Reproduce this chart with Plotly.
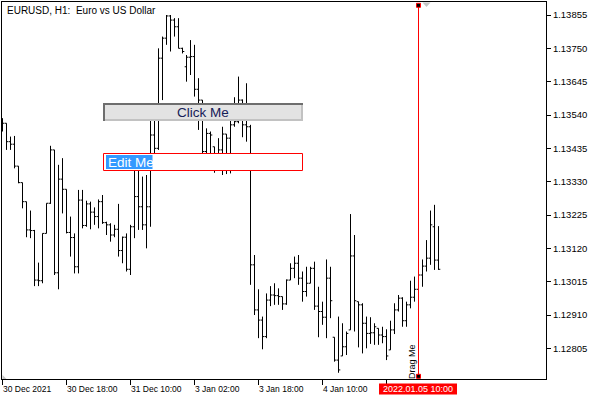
import plotly.graph_objects as go

# ---------------- data ----------------
bar_index = list(range(110))

open_ = [
    1.13498, 1.13514, 1.13456, 1.13448, 1.13379, 1.13327, 1.13267, 1.13178, 1.13176, 1.13020,
    1.13018, 1.13167, 1.13262, 1.13430, 1.13043, 1.13338, 1.13306, 1.13170, 1.13154, 1.13062,
    1.13272, 1.13192, 1.13260, 1.13234, 1.13220, 1.13267, 1.13201, 1.13194, 1.13162, 1.13180,
    1.13113, 1.13155, 1.13054, 1.13188, 1.13283, 1.13251, 1.13194, 1.13251, 1.13477, 1.13435,
    1.13719, 1.13782, 1.13852, 1.13839, 1.13818, 1.13750, 1.13692, 1.13722, 1.13724, 1.13621,
    1.13587, 1.13425, 1.13482, 1.13440, 1.13377, 1.13430, 1.13480, 1.13467, 1.13509, 1.13519,
    1.13587, 1.13509, 1.13503, 1.13068, 1.12926, 1.12894, 1.12842, 1.12957, 1.12973, 1.12971,
    1.12968, 1.12945, 1.13020, 1.13057, 1.13073, 1.13026, 1.12984, 1.13010, 1.13057, 1.12938,
    1.12921, 1.12903, 1.13026, 1.12840, 1.12768, 1.12781, 1.12810, 1.12863, 1.13096, 1.12952,
    1.12942, 1.12884, 1.12852, 1.12854, 1.12868, 1.12847, 1.12842, 1.12800, 1.12863, 1.12926,
    1.12963, 1.12892, 1.12942, 1.12966, 1.12991, 1.13036, 1.13064, 1.13089, 1.13188, 1.13083,
]
high = [
    1.13530, 1.13514, 1.13472, 1.13474, 1.13379, 1.13327, 1.13267, 1.13239, 1.13178, 1.13075,
    1.13167, 1.13262, 1.13443, 1.13430, 1.13383, 1.13404, 1.13306, 1.13220, 1.13167, 1.13304,
    1.13304, 1.13270, 1.13267, 1.13249, 1.13274, 1.13288, 1.13204, 1.13199, 1.13194, 1.13260,
    1.13157, 1.13167, 1.13194, 1.13367, 1.13414, 1.13346, 1.13351, 1.13535, 1.13556, 1.13750,
    1.13787, 1.13855, 1.13855, 1.13845, 1.13845, 1.13752, 1.13729, 1.13776, 1.13761, 1.13656,
    1.13587, 1.13498, 1.13488, 1.13440, 1.13467, 1.13503, 1.13480, 1.13524, 1.13596, 1.13661,
    1.13589, 1.13640, 1.13509, 1.13099, 1.12991, 1.12905, 1.12978, 1.13001, 1.13010, 1.12994,
    1.12968, 1.13022, 1.13073, 1.13094, 1.13099, 1.13047, 1.13062, 1.13062, 1.13078, 1.12999,
    1.12952, 1.13085, 1.13062, 1.12840, 1.12905, 1.12884, 1.12858, 1.13228, 1.13162, 1.12952,
    1.12947, 1.12905, 1.12903, 1.12884, 1.12868, 1.12873, 1.12865, 1.12892, 1.12947, 1.12973,
    1.12966, 1.12952, 1.13018, 1.13031, 1.13073, 1.13085, 1.13146, 1.13239, 1.13257, 1.13190,
]
low = [
    1.13488, 1.13430, 1.13430, 1.13372, 1.13325, 1.13246, 1.13155, 1.13152, 1.13001, 1.13001,
    1.13010, 1.13167, 1.13260, 1.13036, 1.12991, 1.13230, 1.13167, 1.13094, 1.13041, 1.13041,
    1.13183, 1.13188, 1.13180, 1.13194, 1.13183, 1.13197, 1.13162, 1.13141, 1.13155, 1.13094,
    1.13073, 1.13047, 1.13036, 1.13152, 1.13178, 1.13178, 1.13120, 1.13188, 1.13409, 1.13430,
    1.13587, 1.13761, 1.13740, 1.13787, 1.13750, 1.13734, 1.13645, 1.13666, 1.13598, 1.13493,
    1.13419, 1.13419, 1.13419, 1.13358, 1.13377, 1.13351, 1.13354, 1.13356, 1.13503, 1.13514,
    1.13470, 1.13456, 1.13005, 1.12910, 1.12837, 1.12802, 1.12837, 1.12938, 1.12942, 1.12942,
    1.12926, 1.12942, 1.13020, 1.13026, 1.13005, 1.12952, 1.12968, 1.13010, 1.12926, 1.12840,
    1.12879, 1.12837, 1.12900, 1.12763, 1.12728, 1.12781, 1.12784, 1.12863, 1.12858, 1.12808,
    1.12789, 1.12805, 1.12819, 1.12816, 1.12816, 1.12821, 1.12768, 1.12800, 1.12850, 1.12921,
    1.12873, 1.12873, 1.12931, 1.12952, 1.12989, 1.12999, 1.13047, 1.13068, 1.13052, 1.13052,
]
close = [
    1.13514, 1.13456, 1.13448, 1.13379, 1.13327, 1.13267, 1.13178, 1.13176, 1.13020, 1.13018,
    1.13167, 1.13262, 1.13430, 1.13043, 1.13338, 1.13306, 1.13170, 1.13154, 1.13062, 1.13272,
    1.13192, 1.13260, 1.13234, 1.13220, 1.13267, 1.13201, 1.13194, 1.13162, 1.13180, 1.13113,
    1.13155, 1.13054, 1.13188, 1.13283, 1.13251, 1.13194, 1.13251, 1.13477, 1.13435, 1.13719,
    1.13782, 1.13852, 1.13839, 1.13818, 1.13750, 1.13740, 1.13722, 1.13724, 1.13621, 1.13587,
    1.13425, 1.13482, 1.13477, 1.13377, 1.13430, 1.13480, 1.13467, 1.13509, 1.13519, 1.13587,
    1.13509, 1.13503, 1.13068, 1.12926, 1.12894, 1.12842, 1.12957, 1.12973, 1.12971, 1.12968,
    1.12945, 1.13020, 1.13057, 1.13073, 1.13026, 1.12984, 1.13010, 1.13057, 1.12938, 1.12921,
    1.12903, 1.13026, 1.12955, 1.12768, 1.12737, 1.12810, 1.12852, 1.13096, 1.12955, 1.12942,
    1.12884, 1.12852, 1.12854, 1.12873, 1.12847, 1.12842, 1.12781, 1.12863, 1.12926, 1.12963,
    1.12892, 1.12942, 1.12966, 1.12991, 1.13036, 1.13064, 1.13089, 1.13194, 1.13083, 1.13054,
]

y_tick_values = [1.12805, 1.12910, 1.13015, 1.13120, 1.13225, 1.13330,
                 1.13435, 1.13540, 1.13645, 1.13750, 1.13855]
x_tick_index = [0, 16, 32, 48, 64, 80, 96]
x_tick_labels = ["30 Dec 2021", "30 Dec 18:00", "31 Dec 10:00", "3 Jan 02:00",
                 "3 Jan 18:00", "4 Jan 10:00"]
chart_title = "EURUSD, H1:\u00a0 Euro vs US Dollar"
drag_index = 104
drag_label = "2022.01.05 10:00"
marker_index = 106

# ---------------- layout helpers ----------------
W, H = 600, 400
PL, PR, PT, PB = 2, 546, 2, 379
FONT = "Liberation Sans, Arial, sans-serif"


def px(x):
    return (x - PL) / (PR - PL)


def py(y):
    return (PB - y) / (PB - PT)


fig = go.Figure(go.Ohlc(
    x=bar_index, open=open_, high=high, low=low, close=close,
    increasing=dict(line=dict(color="black", width=1)),
    decreasing=dict(line=dict(color="black", width=1)),
    tickwidth=0.45, hoverinfo="skip", showlegend=False,
))

shapes = []
annotations = []

# drag line with end markers
shapes.append(dict(type="line", xref="x", yref="paper", x0=drag_index, x1=drag_index,
                   y0=py(376), y1=py(5), line=dict(color="#ff0000", width=1), layer="above"))
for yy in (5.3, 376.3):
    shapes.append(dict(type="rect", xref="x", yref="paper", xsizemode="pixel", ysizemode="pixel",
                       xanchor=drag_index, yanchor=py(yy), x0=-2, x1=2, y0=-2, y1=2,
                       fillcolor="black", line=dict(color="#ff0000", width=1), layer="above"))
# grey shift marker at the top
shapes.append(dict(type="path", xref="x", yref="paper", xsizemode="pixel", ysizemode="pixel",
                   xanchor=marker_index, yanchor=py(2.5), path="M -4,0 L 4,0 L 0,-4.5 Z",
                   fillcolor="#c4c4c4", line=dict(width=0), layer="above"))
# grey corner marker bottom-left
shapes.append(dict(type="path", xref="paper", yref="paper",
                   path=f"M {px(2.5)},{py(375)} L {px(2.5)},{py(379)} L {px(6.5)},{py(379)} Z",
                   fillcolor="#c4c4c4", line=dict(width=0), layer="above"))

# Click Me button
shapes.append(dict(type="rect", xref="paper", yref="paper", x0=px(103), x1=px(303),
                   y0=py(121), y1=py(103), fillcolor="#e3e3e3", line=dict(width=0), layer="above"))
shapes.append(dict(type="line", xref="paper", yref="paper", x0=px(103), x1=px(303),
                   y0=py(120), y1=py(120), line=dict(color="#c2c2c2", width=2), layer="above"))
shapes.append(dict(type="line", xref="paper", yref="paper", x0=px(302), x1=px(302),
                   y0=py(121), y1=py(103), line=dict(color="#c2c2c2", width=2), layer="above"))
shapes.append(dict(type="line", xref="paper", yref="paper", x0=px(103), x1=px(303),
                   y0=py(104), y1=py(104), line=dict(color="#6e6e6e", width=2), layer="above"))
shapes.append(dict(type="line", xref="paper", yref="paper", x0=px(104), x1=px(104),
                   y0=py(121), y1=py(103), line=dict(color="#6e6e6e", width=2), layer="above"))
annotations.append(dict(text="Click Me", xref="paper", yref="paper", x=px(203), y=py(112.5),
                        xanchor="center", yanchor="middle", showarrow=False,
                        font=dict(family=FONT, size=13.5, color="#162058")))

# Edit Me box
shapes.append(dict(type="rect", xref="paper", yref="paper", x0=px(103.5), x1=px(302.5),
                   y0=py(170.5), y1=py(153.5), fillcolor="white",
                   line=dict(color="#ff0000", width=1), layer="above"))
shapes.append(dict(type="rect", xref="paper", yref="paper", x0=px(106), x1=px(152.5),
                   y0=py(169), y1=py(155), fillcolor="#3399ff", line=dict(width=0), layer="above"))
annotations.append(dict(text="Edit Me", xref="paper", yref="paper", x=px(105.5), y=py(162),
                        xanchor="left", yanchor="middle", showarrow=False,
                        font=dict(family=FONT, size=13.5, color="white")))

# title
annotations.append(dict(text=chart_title, xref="paper", yref="paper", x=px(5), y=py(10),
                        xanchor="left", yanchor="middle", showarrow=False,
                        font=dict(family=FONT, size=10, color="black")))

# x labels (left aligned on ticks)
for idx, lab in zip(x_tick_index, x_tick_labels):
    annotations.append(dict(text=lab, xref="x", yref="paper", x=idx, y=py(381.5),
                            xanchor="left", yanchor="top", xshift=-2, showarrow=False,
                            font=dict(family=FONT, size=8.5, color="black")))

# red date label for the drag line
shapes.append(dict(type="rect", xref="paper", yref="paper", x0=px(379), x1=px(457),
                   y0=py(394.5), y1=py(383.5), fillcolor="#ff0000", line=dict(width=0)))
annotations.append(dict(text=drag_label, xref="paper", yref="paper", x=px(418), y=py(389),
                        xanchor="center", yanchor="middle", showarrow=False,
                        font=dict(family=FONT, size=9, color="white")))

# "Drag Me" vertical text
annotations.append(dict(text="Drag Me", xref="paper", yref="paper", x=px(411.5), y=py(361.5),
                        xanchor="center", yanchor="middle", textangle=-90, showarrow=False,
                        font=dict(family=FONT, size=9, color="black")))

fig.update_layout(
    width=W, height=H, autosize=False,
    margin=dict(l=PL, r=W - PR, t=PT, b=H - PB, pad=0),
    paper_bgcolor="white", plot_bgcolor="white",
    shapes=shapes, annotations=annotations, showlegend=False,
    xaxis=dict(range=[-0.125, 135.875], rangeslider=dict(visible=False), showgrid=False,
               zeroline=False, showline=True, mirror=True, linecolor="black", linewidth=1,
               ticks="outside", tickvals=x_tick_index, ticklen=5, tickcolor="black",
               showticklabels=False, fixedrange=True),
    yaxis=dict(side="right", range=[1.127084, 1.1389595], showgrid=False, zeroline=False,
               showline=True, mirror=True, linecolor="black", linewidth=1,
               ticks="outside", ticklen=4, tickcolor="black",
               tickvals=y_tick_values, ticktext=[f"{v:.5f}" for v in y_tick_values],
               tickfont=dict(family=FONT, size=9.5, color="black"), fixedrange=True),
)

fig.write_html("out.html", config={"displayModeBar": False},
               post_script="document.body.style.margin='0px';document.body.style.padding='0px';")
